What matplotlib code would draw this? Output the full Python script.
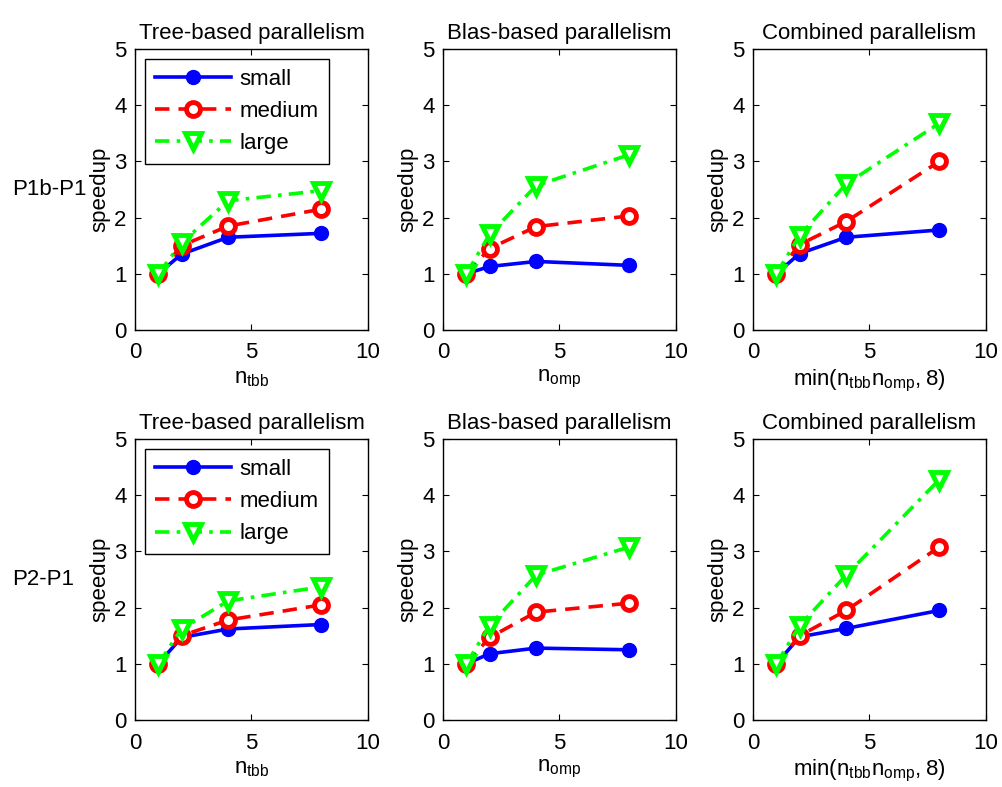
import numpy as np
import matplotlib
matplotlib.use("Agg")
import matplotlib.pyplot as plt

plt.rcParams['font.family'] = ['Liberation Sans', 'DejaVu Sans']
plt.rcParams['mathtext.fontset'] = 'custom'
plt.rcParams['mathtext.rm'] = 'Liberation Sans'

threads = [1, 2, 4, 8]
sizes = ['small', 'medium', 'large']
titles = ['Tree-based parallelism', 'Blas-based parallelism', 'Combined parallelism']
xlabels = [r'$\mathregular{n_{tbb}}$', r'$\mathregular{n_{omp}}$',
           r'$\mathregular{min(n_{tbb}n_{omp},8)}$']
row_labels = ['P1b-P1', 'P2-P1']

# speedup[row][panel][size]
p1b_tree = [[1.0, 1.35, 1.65, 1.72], [1.0, 1.5, 1.85, 2.15], [1.0, 1.55, 2.3, 2.48]]
p1b_blas = [[1.0, 1.13, 1.22, 1.15], [1.0, 1.45, 1.84, 2.03], [1.0, 1.7, 2.57, 3.12]]
p1b_comb = [[1.0, 1.36, 1.65, 1.78], [1.0, 1.52, 1.93, 3.0], [1.0, 1.68, 2.6, 3.68]]
p2_tree = [[1.0, 1.47, 1.62, 1.7], [1.0, 1.5, 1.78, 2.05], [1.0, 1.62, 2.12, 2.37]]
p2_blas = [[1.0, 1.18, 1.28, 1.25], [1.0, 1.47, 1.92, 2.08], [1.0, 1.68, 2.58, 3.08]]
p2_comb = [[1.0, 1.48, 1.63, 1.95], [1.0, 1.5, 1.95, 3.08], [1.0, 1.68, 2.58, 4.28]]
data = [[p1b_tree, p1b_blas, p1b_comb], [p2_tree, p2_blas, p2_comb]]

styles = [
    dict(color='#0000ff', ls='-', marker='o', ms=10, mfc='#0000ff', mec='#0000ff', mew=1),
    dict(color='#ff0000', ls=(0, (4, 2.5)), marker='o', ms=10, mfc='white', mec='#ff0000', mew=3.5),
    dict(color='#00ff00', ls=(0, (4, 2, 1, 2)), marker='v', ms=12, mfc='white', mec='#00ff00', mew=3.5),
]

fig = plt.figure(figsize=(10.02, 7.87), dpi=100)
lefts = [0.1347, 0.4421, 0.7515]
bottoms = [0.5807, 0.0851]
fs = 16

for r in range(2):
    for c in range(3):
        ax = fig.add_axes([lefts[c], bottoms[r], 0.2325, 0.357])
        for s in range(3):
            ax.plot(threads, data[r][c][s], lw=2.6, label=sizes[s], **styles[s])
        ax.set_xlim(0, 10)
        ax.set_ylim(0, 5)
        ax.set_xticks([0, 5, 10])
        ax.set_yticks([0, 1, 2, 3, 4, 5])
        ax.tick_params(direction='in', top=True, right=True, labelsize=fs, length=4)
        ax.tick_params(axis='x', pad=9)
        ax.tick_params(axis='y', pad=6)
        ax.set_title(titles[c], fontsize=fs, pad=7)
        ax.set_xlabel(xlabels[c], fontsize=fs, labelpad=3)
        ax.set_ylabel('speedup', fontsize=fs, labelpad=3)
        for sp in ax.spines.values():
            sp.set_linewidth(1.0)
        if c == 0:
            leg = ax.legend(loc='upper left', fontsize=fs, handlelength=3.4,
                            fancybox=False, framealpha=1, edgecolor='black',
                            borderaxespad=0.45, labelspacing=0.5, handletextpad=0.4,
                            borderpad=0.45)
            leg.get_frame().set_linewidth(1.0)
            fig.text(0.012, bottoms[r] + 0.357 / 2, row_labels[r], fontsize=fs,
                     ha='left', va='center')

fig.savefig('out.png', dpi=100)
